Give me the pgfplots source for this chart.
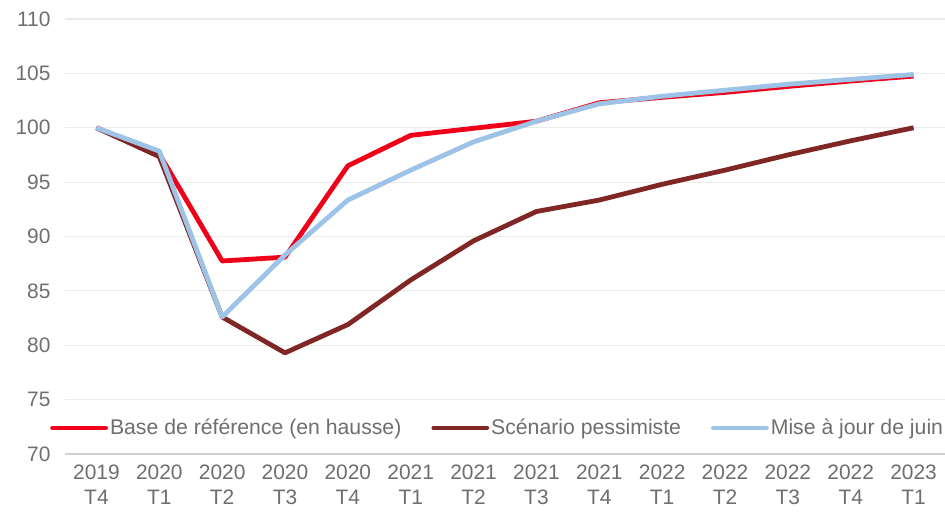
\documentclass[border=0pt]{standalone}
\usepackage{pgfplots}
\pgfplotsset{compat=1.18}
\usepackage{fontspec}
\setmainfont{Liberation Sans}
\definecolor{cred}{RGB}{240,0,25}
\definecolor{cdark}{RGB}{128,38,36}
\definecolor{cblue}{RGB}{157,195,230}
\definecolor{ctxt}{RGB}{110,110,110}
\definecolor{cgrid}{RGB}{235,235,235}
\begin{document}
\begin{tikzpicture}
\begin{axis}[
  name=ax,
  scale only axis,
  width=880bp, height=435bp,
  xmin=-0.5, xmax=13.5,
  ymin=70, ymax=110,
  ytick={70,75,...,110},
  xtick={0,...,13},
  xticklabels={{2019\\T4},{2020\\T1},{2020\\T2},{2020\\T3},{2020\\T4},{2021\\T1},{2021\\T2},{2021\\T3},{2021\\T4},{2022\\T1},{2022\\T2},{2022\\T3},{2022\\T4},{2023\\T1}},
  xticklabel style={align=center, font=\fontsize{21}{25}\selectfont, text=ctxt, yshift=-10bp, inner sep=1bp},
  yticklabel style={font=\fontsize{21}{24}\selectfont, text=ctxt, xshift=-11bp},
  /pgf/number format/assume math mode=true,
  ymajorgrids, grid style={cgrid, line width=1.2bp},
  axis lines*=left,
  y axis line style={draw=none},
  x axis line style={draw=cgrid!75!gray, line width=1.2bp, -},
  major tick length=0pt,
  tick style={draw=none},
  legend columns=3,
  legend style={at={(-0.017,0.06)}, anchor=west, draw=none, fill=none,
    font=\fontsize{21.3}{24}\selectfont, text=ctxt,
    /tikz/every even column/.append style={column sep=28bp},
    inner sep=0pt},
  legend image code/.code={\draw[#1, line cap=round] (0bp,0bp) -- (53bp,0bp);},
  every axis plot/.append style={line width=4.8bp, line join=round},
]
\addplot[cred, mark=none] coordinates {(0,100) (1,97.6) (2,87.75) (3,88.1) (4,96.5) (5,99.3) (6,99.95) (7,100.6) (8,102.3) (9,102.8) (10,103.25) (11,103.8) (12,104.3) (13,104.75)};
\addlegendentry{Base de référence (en hausse)}
\addplot[cdark, mark=none] coordinates {(0,100) (1,97.35) (2,82.6) (3,79.3) (4,81.9) (5,86.0) (6,89.6) (7,92.3) (8,93.35) (9,94.8) (10,96.1) (11,97.5) (12,98.8) (13,100.0)};
\addlegendentry{Scénario pessimiste}
\addplot[cblue, mark=none] coordinates {(0,100) (1,97.85) (2,82.6) (3,88.3) (4,93.35) (5,96.1) (6,98.7) (7,100.6) (8,102.2) (9,102.9) (10,103.45) (11,104.0) (12,104.45) (13,104.9)};
\addlegendentry{Mise à jour de juin}
\end{axis}
\pgfresetboundingbox
\path ([xshift=-65bp,yshift=-59bp]ax.south west) rectangle ([yshift=19bp]ax.north east);
\end{tikzpicture}
\end{document}
